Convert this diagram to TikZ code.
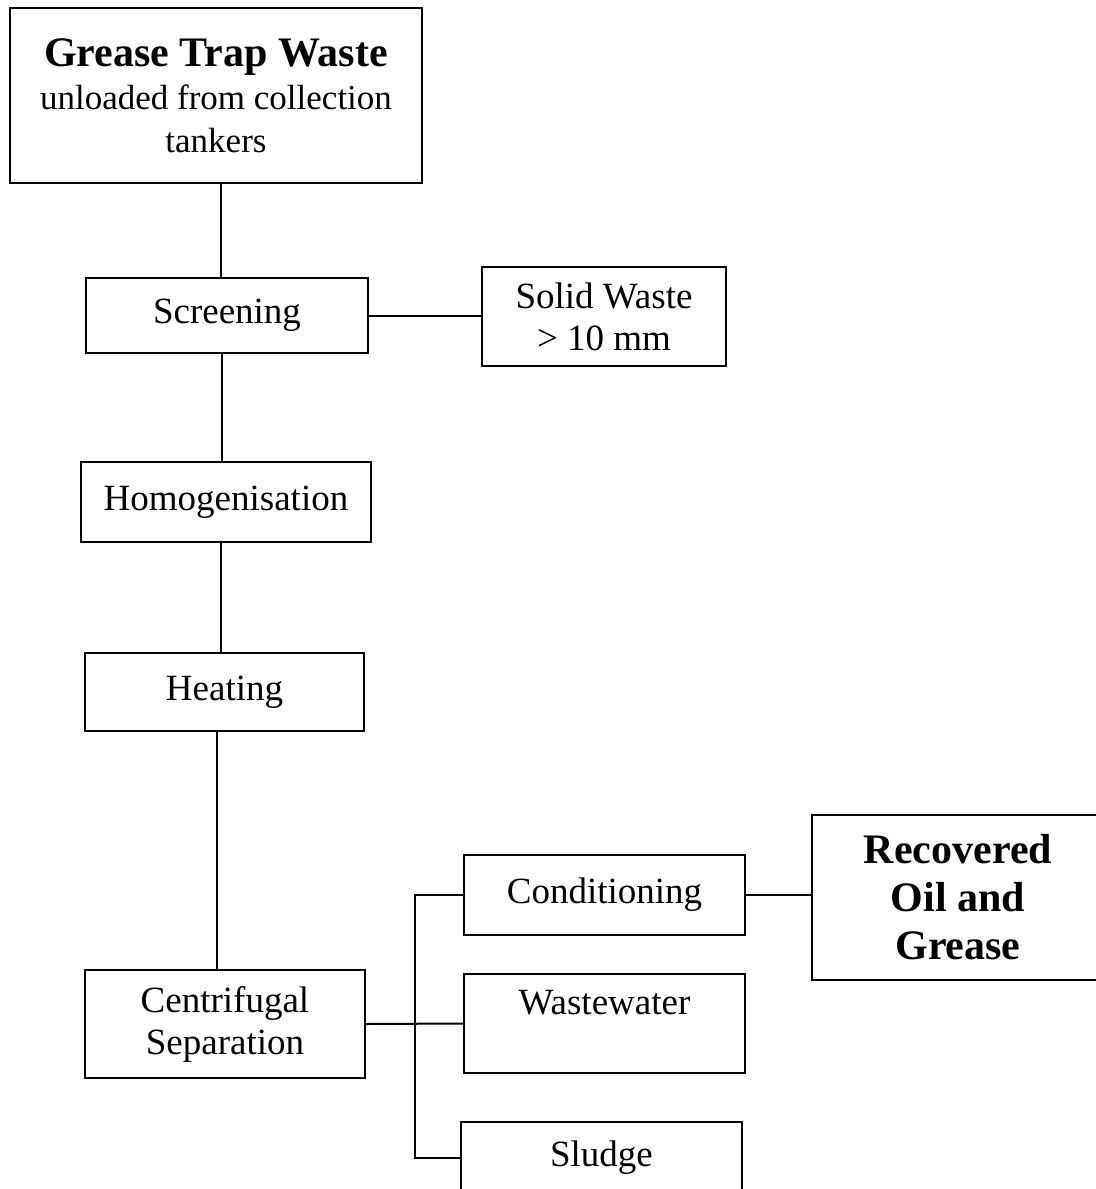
\documentclass[tikz,border=0pt]{standalone}
\usepackage{fontspec}
\setmainfont{Liberation Serif}
\usetikzlibrary{positioning}
\usetikzlibrary{calc}

\begin{document}
\begin{tikzpicture}[x=0.5pt, y=-0.5pt, line width=1pt,
    stage/.style={draw, align=center, inner sep=0pt, font=\fontsize{18.5}{21}\selectfont},
    product/.style={stage, font=\fontsize{21}{24}\selectfont\bfseries}]

    \useasboundingbox (0,0) rectangle (1096,1189);
    \clip (0,0) rectangle (1096,1189);

    % main line
    \node [stage, minimum width=206pt, minimum height=87.5pt, font=\fontsize{17.5}{21.5}\selectfont] (grease) at (216,95.5)
        {{\fontsize{21}{21}\selectfont\bfseries Grease Trap Waste}\\unloaded from collection\\tankers};
    \node [stage, minimum width=141pt, minimum height=37.5pt] (screening) at (227,315.5) {Screening};
    \node [stage, minimum width=122pt, minimum height=49.5pt] (solid) at (604,316.5) {Solid Waste\\> 10 mm};
    \node [stage, minimum width=145pt, minimum height=40pt] (homog) at (226,502) {Homogenisation};
    \node [stage, minimum width=139.5pt, minimum height=39pt] (heating) at (224.5,692) {Heating};
    \node [stage, minimum width=140pt, minimum height=54pt] (centrif) at (225,1024) {Centrifugal\\Separation};

    % outputs of the separation
    \node [stage, minimum width=140.5pt, minimum height=40pt] (cond) at (604.5,895) {Conditioning};
    \node [stage, minimum width=140.5pt, minimum height=49.5pt] (water) at (604.5,1023.5) {Wastewater\\~};
    \node [stage, minimum width=140.5pt, minimum height=36pt] (sludge) at (601.5,1158) {Sludge};
    \node [product, minimum width=146pt, minimum height=82.5pt] (oil) at (958,897.5) {Recovered\\Oil and\\Grease};

    \coordinate (bus) at ($(centrif.east)!0.5!(water.west)$);

    \draw ([xshift=2.5pt]grease.south) -- ([xshift=2.5pt]grease.south |- screening.north);
    \draw (screening.east) -- (screening.east -| solid.west);
    \draw ([xshift=-2pt]homog.north) -- ([xshift=-2pt]homog.north |- screening.south);
    \draw ([xshift=-2pt]heating.north) -- ([xshift=-2pt]heating.north |- homog.south);
    \draw ([xshift=-4pt]centrif.north) -- ([xshift=-4pt]centrif.north |- heating.south);
    \draw (centrif.east) -- (water.west);
    \draw (cond.west) -| (bus) |- (sludge.west);
    \draw (cond.east) -- (cond.east -| oil.west);

\end{tikzpicture}
\end{document}
